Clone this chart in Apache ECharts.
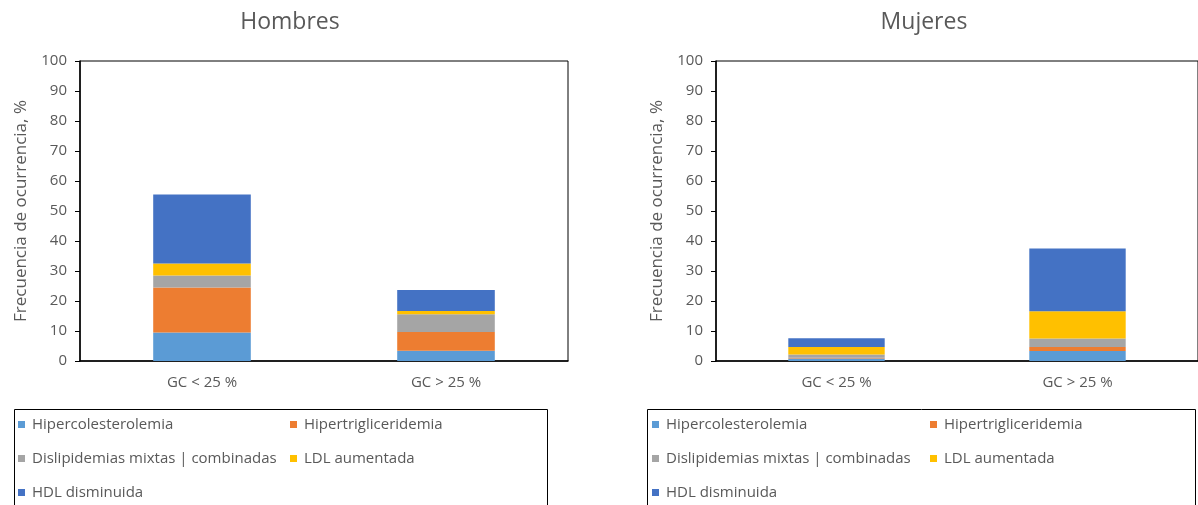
<!DOCTYPE html>
<html>
<head>
<meta charset="utf-8">
<script src="https://cdn.jsdelivr.net/npm/echarts@6/dist/echarts.min.js"></script>
<style>
  html, body { margin: 0; padding: 0; background: #fff; }
  #chart { width: 1198px; height: 505px; }
</style>
</head>
<body>
<div id="chart"></div>
<script>
// datos
const categorias = ['GC < 25 %', 'GC > 25 %']
const nombres = ['Hipercolesterolemia', 'Hipertrigliceridemia', 'Dislipidemias mixtas | combinadas', 'LDL aumentada', 'HDL disminuida']
const colores = ['#5B9BD5', '#ED7D31', '#A5A5A5', '#FFC000', '#4472C4']

const hombresHiperCol = [9.5, 3.4]
const hombresHiperTrig = [15, 6.3]
const hombresDislip = [4, 5.9]
const hombresLDL = [4, 1.1]
const hombresHDL = [23, 7]

const mujeresHiperCol = [0.8, 3.3]
const mujeresHiperTrig = [0.3, 1.4]
const mujeresDislip = [1.1, 2.8]
const mujeresLDL = [2.5, 9.1]
const mujeresHDL = [2.9, 20.9]

const yTicks = [0, 10, 20, 30, 40, 50, 60, 70, 80, 90, 100]

const hombres = [hombresHiperCol, hombresHiperTrig, hombresDislip, hombresLDL, hombresHDL]
const mujeres = [mujeresHiperCol, mujeresHiperTrig, mujeresDislip, mujeresLDL, mujeresHDL]

const fuente = 'Open Sans'
const gris = '#595959'

function ejeX (idx) {
  return {
    type: 'category',
    gridIndex: idx,
    data: categorias,
    axisLine: { lineStyle: { color: '#000', width: 1.5 } },
    axisTick: { show: false },
    axisLabel: { color: gris, fontSize: 15, fontFamily: fuente, margin: 14 }
  }
}

function ejeY (idx) {
  return {
    type: 'value',
    gridIndex: idx,
    min: yTicks[0],
    max: yTicks[yTicks.length - 1],
    interval: 10,
    name: 'Frecuencia de ocurrencia, %',
    nameLocation: 'middle',
    nameGap: 50,
    nameTextStyle: { color: gris, fontSize: 17, fontFamily: fuente },
    axisLine: { show: true, lineStyle: { color: '#000', width: 1.5 } },
    axisTick: { show: true, length: 5, lineStyle: { color: '#000' } },
    axisLabel: { color: gris, fontSize: 15, fontFamily: fuente, margin: 13 },
    splitLine: { show: false }
  }
}

function series (datos, idx) {
  return datos.map(function (d, i) {
    return {
      name: nombres[i],
      type: 'bar',
      stack: 'g' + idx,
      xAxisIndex: idx,
      yAxisIndex: idx,
      barWidth: '40%',
      itemStyle: { color: colores[i] },
      data: d
    }
  })
}

function leyenda (left, items) {
  return {
    orient: 'vertical',
    left: left,
    top: 417,
    itemWidth: 7,
    itemHeight: 7,
    itemGap: 19,
    icon: 'rect',
    data: items,
    textStyle: { color: gris, fontSize: 15, fontFamily: fuente, padding: [0, 0, 0, 2] },
    padding: 0
  }
}

const col1 = [nombres[0], nombres[2], nombres[4]]
const col2 = [nombres[1], nombres[3]]

let option = {
  animation: false,
  color: colores,
  title: [
    { text: 'Hombres', left: 285, top: 6, textAlign: 'center', textStyle: { color: gris, fontSize: 23, fontWeight: 'normal', fontFamily: fuente } },
    { text: 'Mujeres', left: 919, top: 6, textAlign: 'center', textStyle: { color: gris, fontSize: 23, fontWeight: 'normal', fontFamily: fuente } }
  ],
  grid: [
    { left: 80, top: 61, width: 488, height: 300, show: true, borderColor: '#000', borderWidth: 1 },
    { left: 716, top: 61, width: 488, height: 300, show: true, borderColor: '#000', borderWidth: 1 }
  ],
  xAxis: [ejeX(0), ejeX(1)],
  yAxis: [ejeY(0), ejeY(1)],
  legend: [
    leyenda(18, col1),
    leyenda(290, col2),
    leyenda(652, col1),
    leyenda(930, col2)
  ],
  graphic: [
    { type: 'rect', left: 12, top: 407, shape: { width: 533, height: 110 }, style: { fill: 'none', stroke: '#000', lineWidth: 1 } },
    { type: 'rect', left: 645, top: 407, shape: { width: 548, height: 110 }, style: { fill: 'none', stroke: '#000', lineWidth: 1 } }
  ],
  series: series(hombres, 0).concat(series(mujeres, 1))
}

let chart = echarts.init(document.getElementById('chart'))
chart.setOption(option)
</script>
</body>
</html>
